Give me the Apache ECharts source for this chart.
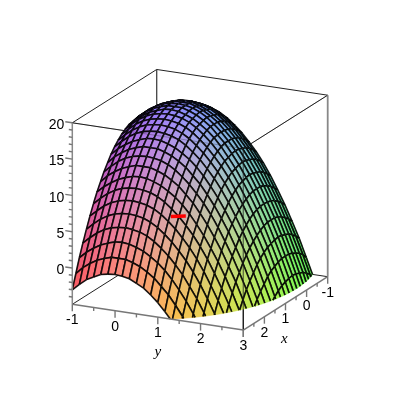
<!DOCTYPE html>
<html><head><meta charset="utf-8">
<style>html,body{margin:0;padding:0;background:#fff}#c{width:400px;height:400px}</style>
<script src="https://cdn.jsdelivr.net/npm/echarts@6/dist/echarts.min.js"></script>
</head><body><div id="c"></div>
<script>
const xValues=[-1,-5/6,-4/6,-3/6,-2/6,-1/6,0,1/6,2/6,3/6,4/6,5/6,1,7/6,8/6,9/6,10/6,11/6,2,13/6,14/6,15/6,16/6,17/6,3];
const yValues=xValues.slice();
const zRows=[
[13.0,13.9,14.7,15.3,15.7,15.9,16.0,15.9,15.7,15.3,14.7,13.9,13.0,11.9,10.7,9.3,7.7,5.9,4.0,1.9,-0.3,-2.8,-5.3,-8.1,-11.0],
[13.6,14.5,15.3,15.9,16.3,16.5,16.6,16.5,16.3,15.9,15.3,14.5,13.6,12.5,11.3,9.9,8.3,6.5,4.6,2.5,0.3,-2.1,-4.7,-7.5,-10.4],
[14.1,15.0,15.8,16.4,16.8,17.0,17.1,17.0,16.8,16.4,15.8,15.0,14.1,13.0,11.8,10.4,8.8,7.0,5.1,3.0,0.8,-1.6,-4.2,-7.0,-9.9],
[14.5,15.4,16.2,16.8,17.2,17.4,17.5,17.4,17.2,16.8,16.2,15.4,14.5,13.4,12.2,10.8,9.2,7.4,5.5,3.4,1.2,-1.3,-3.8,-6.6,-9.5],
[14.8,15.7,16.4,17.0,17.4,17.7,17.8,17.7,17.4,17.0,16.4,15.7,14.8,13.7,12.4,11.0,9.4,7.7,5.8,3.7,1.4,-1.0,-3.6,-6.3,-9.2],
[14.9,15.9,16.6,17.2,17.6,17.9,17.9,17.9,17.6,17.2,16.6,15.9,14.9,13.9,12.6,11.2,9.6,7.9,5.9,3.9,1.6,-0.8,-3.4,-6.1,-9.1],
[15.0,15.9,16.7,17.3,17.7,17.9,18.0,17.9,17.7,17.3,16.7,15.9,15.0,13.9,12.7,11.3,9.7,7.9,6.0,3.9,1.7,-0.8,-3.3,-6.1,-9.0],
[14.9,15.9,16.6,17.2,17.6,17.9,17.9,17.9,17.6,17.2,16.6,15.9,14.9,13.9,12.6,11.2,9.6,7.9,5.9,3.9,1.6,-0.8,-3.4,-6.1,-9.1],
[14.8,15.7,16.4,17.0,17.4,17.7,17.8,17.7,17.4,17.0,16.4,15.7,14.8,13.7,12.4,11.0,9.4,7.7,5.8,3.7,1.4,-1.0,-3.6,-6.3,-9.2],
[14.5,15.4,16.2,16.8,17.2,17.4,17.5,17.4,17.2,16.8,16.2,15.4,14.5,13.4,12.2,10.8,9.2,7.4,5.5,3.4,1.2,-1.3,-3.8,-6.6,-9.5],
[14.1,15.0,15.8,16.4,16.8,17.0,17.1,17.0,16.8,16.4,15.8,15.0,14.1,13.0,11.8,10.4,8.8,7.0,5.1,3.0,0.8,-1.6,-4.2,-7.0,-9.9],
[13.6,14.5,15.3,15.9,16.3,16.5,16.6,16.5,16.3,15.9,15.3,14.5,13.6,12.5,11.3,9.9,8.3,6.5,4.6,2.5,0.3,-2.1,-4.7,-7.5,-10.4],
[13.0,13.9,14.7,15.3,15.7,15.9,16.0,15.9,15.7,15.3,14.7,13.9,13.0,11.9,10.7,9.3,7.7,5.9,4.0,1.9,-0.3,-2.8,-5.3,-8.1,-11.0],
[12.3,13.2,13.9,14.5,14.9,15.2,15.3,15.2,14.9,14.5,13.9,13.2,12.3,11.2,9.9,8.5,6.9,5.2,3.3,1.2,-1.1,-3.5,-6.1,-8.8,-11.7],
[11.4,12.4,13.1,13.7,14.1,14.4,14.4,14.4,14.1,13.7,13.1,12.4,11.4,10.4,9.1,7.7,6.1,4.4,2.4,0.4,-1.9,-4.3,-6.9,-9.6,-12.6],
[10.5,11.4,12.2,12.8,13.2,13.4,13.5,13.4,13.2,12.8,12.2,11.4,10.5,9.4,8.2,6.8,5.2,3.4,1.5,-0.6,-2.8,-5.3,-7.8,-10.6,-13.5],
[9.4,10.4,11.1,11.7,12.1,12.4,12.4,12.4,12.1,11.7,11.1,10.4,9.4,8.4,7.1,5.7,4.1,2.4,0.4,-1.6,-3.9,-6.3,-8.9,-11.6,-14.6],
[8.3,9.2,9.9,10.5,10.9,11.2,11.3,11.2,10.9,10.5,9.9,9.2,8.3,7.2,5.9,4.5,2.9,1.2,-0.7,-2.8,-5.1,-7.5,-10.1,-12.8,-15.7],
[7.0,7.9,8.7,9.3,9.7,9.9,10.0,9.9,9.7,9.3,8.7,7.9,7.0,5.9,4.7,3.3,1.7,-0.1,-2.0,-4.1,-6.3,-8.8,-11.3,-14.1,-17.0],
[5.6,6.5,7.3,7.9,8.3,8.5,8.6,8.5,8.3,7.9,7.3,6.5,5.6,4.5,3.3,1.9,0.3,-1.5,-3.4,-5.5,-7.7,-10.1,-12.7,-15.5,-18.4],
[4.1,5.0,5.8,6.4,6.8,7.0,7.1,7.0,6.8,6.4,5.8,5.0,4.1,3.0,1.8,0.4,-1.2,-3.0,-4.9,-7.0,-9.2,-11.6,-14.2,-17.0,-19.9],
[2.5,3.4,4.2,4.8,5.2,5.4,5.5,5.4,5.2,4.8,4.2,3.4,2.5,1.4,0.2,-1.3,-2.8,-4.6,-6.5,-8.6,-10.8,-13.3,-15.8,-18.6,-21.5],
[0.8,1.7,2.4,3.0,3.4,3.7,3.8,3.7,3.4,3.0,2.4,1.7,0.8,-0.3,-1.6,-3.0,-4.6,-6.3,-8.2,-10.3,-12.6,-15.0,-17.6,-20.3,-23.2],
[-1.1,-0.1,0.6,1.2,1.6,1.9,1.9,1.9,1.6,1.2,0.6,-0.1,-1.1,-2.1,-3.4,-4.8,-6.4,-8.1,-10.1,-12.1,-14.4,-16.8,-19.4,-22.1,-25.1],
[-3.0,-2.1,-1.3,-0.8,-0.3,-0.1,0.0,-0.1,-0.3,-0.8,-1.3,-2.1,-3.0,-4.1,-5.3,-6.8,-8.3,-10.1,-12.0,-14.1,-16.3,-18.8,-21.3,-24.1,-27.0]
];
const xTicks=[-1,0,1,2];
const yTicks=[-1,0,1,2,3];
const zTicks=[0,5,10,15,20];
const xMinor=[-0.5,0.5,1.5,2.5];
const yMinor=[-0.5,0.5,1.5,2.5];
const zMinor=[-4,-3,-2,-1,1,2,3,4,6,7,8,9,11,12,13,14,16,17,18,19];
const markerSegment=[[0.08,-0.135,2.5],[-0.08,0.135,2.5]];
const xRange=[-1,3],yRange=[-1,3],zRange=[-5,20];

// oblique view of the box, pixels per data unit
function proj(x,y,z){
  const u=y+1,v=3-x,w=z+5;
  return [72.3+42.75*u+21.1*v, 304.3+6.43*u-13.33*v-7.26*w];
}
const clipZ=zRange[0];
function clipPoly(pts){
  const out=[];
  for(let i=0;i<pts.length;i++){
    const a=pts[i],b=pts[(i+1)%pts.length];
    const ai=a[2]>=clipZ,bi=b[2]>=clipZ;
    if(ai)out.push(a);
    if(ai!==bi){const t=(clipZ-a[2])/(b[2]-a[2]);out.push([a[0]+t*(b[0]-a[0]),a[1]+t*(b[1]-a[1]),clipZ]);}
  }
  return out;
}
function clipSeg(a,b){
  const ai=a[2]>=clipZ,bi=b[2]>=clipZ;
  if(!ai&&!bi)return null;
  if(ai&&bi)return [a,b];
  const t=(clipZ-a[2])/(b[2]-a[2]);
  const m=[a[0]+t*(b[0]-a[0]),a[1]+t*(b[1]-a[1]),clipZ];
  return ai?[a,m]:[m,b];
}
function colorOf(x,y,z){
  const r=132+40*x,g=133+41*y,b=116+7.6*z;
  const c=v=>Math.max(0,Math.min(255,Math.round(v)));
  return 'rgb('+c(r)+','+c(g)+','+c(b)+')';
}
const cells=[];
for(let i=0;i<xValues.length-1;i++)for(let j=0;j<yValues.length-1;j++)cells.push([i,j]);

function renderCell(params,api){
  const i=api.value(0),j=api.value(1);
  const P=(a,b)=>[xValues[a],yValues[b],zRows[a][b]];
  const c=[P(i,j),P(i+1,j),P(i+1,j+1),P(i,j+1)];
  const poly=clipPoly(c);
  if(poly.length<3)return {type:'group',children:[]};
  let mx=0,my=0,mz=0;poly.forEach(p=>{mx+=p[0];my+=p[1];mz+=p[2];});
  const n=poly.length;
  const S=p=>api.coord(proj(p[0],p[1],p[2]));
  const col=colorOf(mx/n,my/n,mz/n);
  const ch=[{type:'polygon',shape:{points:poly.map(S)},style:{fill:col,stroke:col,lineWidth:0.6}}];
  for(let e=0;e<4;e++){
    const s=clipSeg(c[e],c[(e+1)%4]);
    if(s){const a=S(s[0]),b=S(s[1]);
      ch.push({type:'line',shape:{x1:a[0],y1:a[1],x2:b[0],y2:b[1]},style:{stroke:'#000',lineWidth:1.6,opacity:0.9}});}
  }
  return {type:'group',children:ch};
}
const X0=xRange[0],X1=xRange[1],Y0=yRange[0],Y1=yRange[1],Z0=zRange[0],Z1=zRange[1];
const backEdges=[
 [[X1,Y0,Z0],[X0,Y0,Z0],'#222',1],[[X0,Y0,Z0],[X0,Y1,Z0],'#222',1],
 [[X0,Y0,Z0],[X0,Y0,Z1],'#444',1.3],
 [[X1,Y0,Z1],[X0,Y0,Z1],'#222',1],[[X0,Y0,Z1],[X0,Y1,Z1],'#222',1],
 [[X0,Y1,Z1],[X1,Y1,Z1],'#222',1],[[X1,Y0,Z1],[X1,Y1,Z1],'#222',1],
 [[X1,Y1,Z0],[X1,Y1,Z1],'#111',1.2]
];
const frontEdges=[
 [[X1,Y0,Z1],[X1,Y1,Z1],'rgba(30,30,30,0.3)',1],[[X0,Y1,Z1],[X1,Y1,Z1],'rgba(30,30,30,0.3)',1],
 [[X1,Y1,Z0],[X1,Y1,Z1],'rgba(30,30,30,0.6)',1.3],
 [[X1,Y0,Z0],[X1,Y0,Z1],'#888',1.5],
 [[X0,Y1,Z0],[X0,Y1,Z1],'#888',1.8],
 [[X1,Y0,Z0],[X1,Y1,Z0],'#777',1.5],
 [[X1,Y1,Z0],[X0,Y1,Z0],'#777',1.5]
];
function renderEdge(list){return function(params,api){
  const e=list[api.value(0)];
  const a=api.coord(proj.apply(null,e[0])),b=api.coord(proj.apply(null,e[1]));
  return {type:'line',shape:{x1:a[0],y1:a[1],x2:b[0],y2:b[1]},style:{stroke:e[2],lineWidth:e[3]}};
};}
// ticks: [axis, value, major?]
const ticks=[];
xTicks.concat([3]).forEach(v=>ticks.push(['x',v,1]));xMinor.forEach(v=>ticks.push(['x',v,0]));
yTicks.forEach(v=>ticks.push(['y',v,1]));yMinor.forEach(v=>ticks.push(['y',v,0]));
zTicks.forEach(v=>ticks.push(['z',v,1]));zMinor.forEach(v=>ticks.push(['z',v,0]));
function renderTick(params,api){
  const t=ticks[api.value(0)];
  const p=t[0]==='x'?[t[1],Y1,Z0]:t[0]==='y'?[X1,t[1],Z0]:[X1,Y0,t[1]];
  const a=api.coord(proj.apply(null,p));
  const len=t[2]?7:3.5;
  const b=t[0]==='z'?[a[0]-len,a[1]-len*0.15]:[a[0],a[1]+len];
  return {type:'line',shape:{x1:a[0],y1:a[1],x2:b[0],y2:b[1]},style:{stroke:'#777',lineWidth:1.4}};
}
const labels=[];
xTicks.forEach(v=>labels.push(['x',v,String(v)]));
yTicks.forEach(v=>labels.push(['y',v,String(v)]));
zTicks.forEach(v=>labels.push(['z',v,String(v)]));
labels.push(['tx',1.05,'x']);labels.push(['ty',1,'y']);
function renderLabel(params,api){
  const l=labels[api.value(0)];
  const k=l[0];
  const p=k==='x'||k==='tx'?[l[1],Y1,Z0]:k==='y'||k==='ty'?[X1,l[1],Z0]:[X1,Y0,l[1]];
  const a=api.coord(proj.apply(null,p));
  let dx=0,dy=16,align='center';
  if(k==='z'){dx=-8;dy=2.5;align='right';}
  if(k==='tx'){dy=35;}
  if(k==='ty'){dy=35;}
  const title=k==='tx'||k==='ty';
  return {type:'text',x:a[0]+dx,y:a[1]+dy,style:{text:l[2],fill:'#000',align:align,verticalAlign:'middle',
    font:title?'italic 15px "Liberation Serif"':'14px "Liberation Sans"'}};
}
function renderMark(params,api){
  const a=api.coord(proj.apply(null,markerSegment[0])),b=api.coord(proj.apply(null,markerSegment[1]));
  return {type:'line',shape:{x1:a[0],y1:a[1],x2:b[0],y2:b[1]},style:{stroke:'#f00',lineWidth:3.5}};
}
const idx=a=>a.map((_,i)=>[i]);
const base={type:'custom',coordinateSystem:'cartesian2d',animation:false,clip:false,silent:true,progressive:0,encode:{x:0,y:0}};
const chart=echarts.init(document.getElementById('c'),null,{renderer:'canvas',width:400,height:400});
chart.setOption({
  animation:false,backgroundColor:'#fff',
  grid:{left:0,right:0,top:0,bottom:0},
  xAxis:{type:'value',min:0,max:400,show:false},
  yAxis:{type:'value',min:0,max:400,inverse:true,show:false},
  series:[
    Object.assign({},base,{name:'back',z:1,data:idx(backEdges),renderItem:renderEdge(backEdges)}),
    Object.assign({},base,{name:'surface',z:2,data:cells,renderItem:renderCell}),
    Object.assign({},base,{name:'front',z:3,data:idx(frontEdges),renderItem:renderEdge(frontEdges)}),
    Object.assign({},base,{name:'ticks',z:3,data:idx(ticks),renderItem:renderTick}),
    Object.assign({},base,{name:'labels',z:4,data:idx(labels),renderItem:renderLabel}),
    Object.assign({},base,{name:'marker',z:5,data:[[0]],renderItem:renderMark})
  ]
});
</script></body></html>
